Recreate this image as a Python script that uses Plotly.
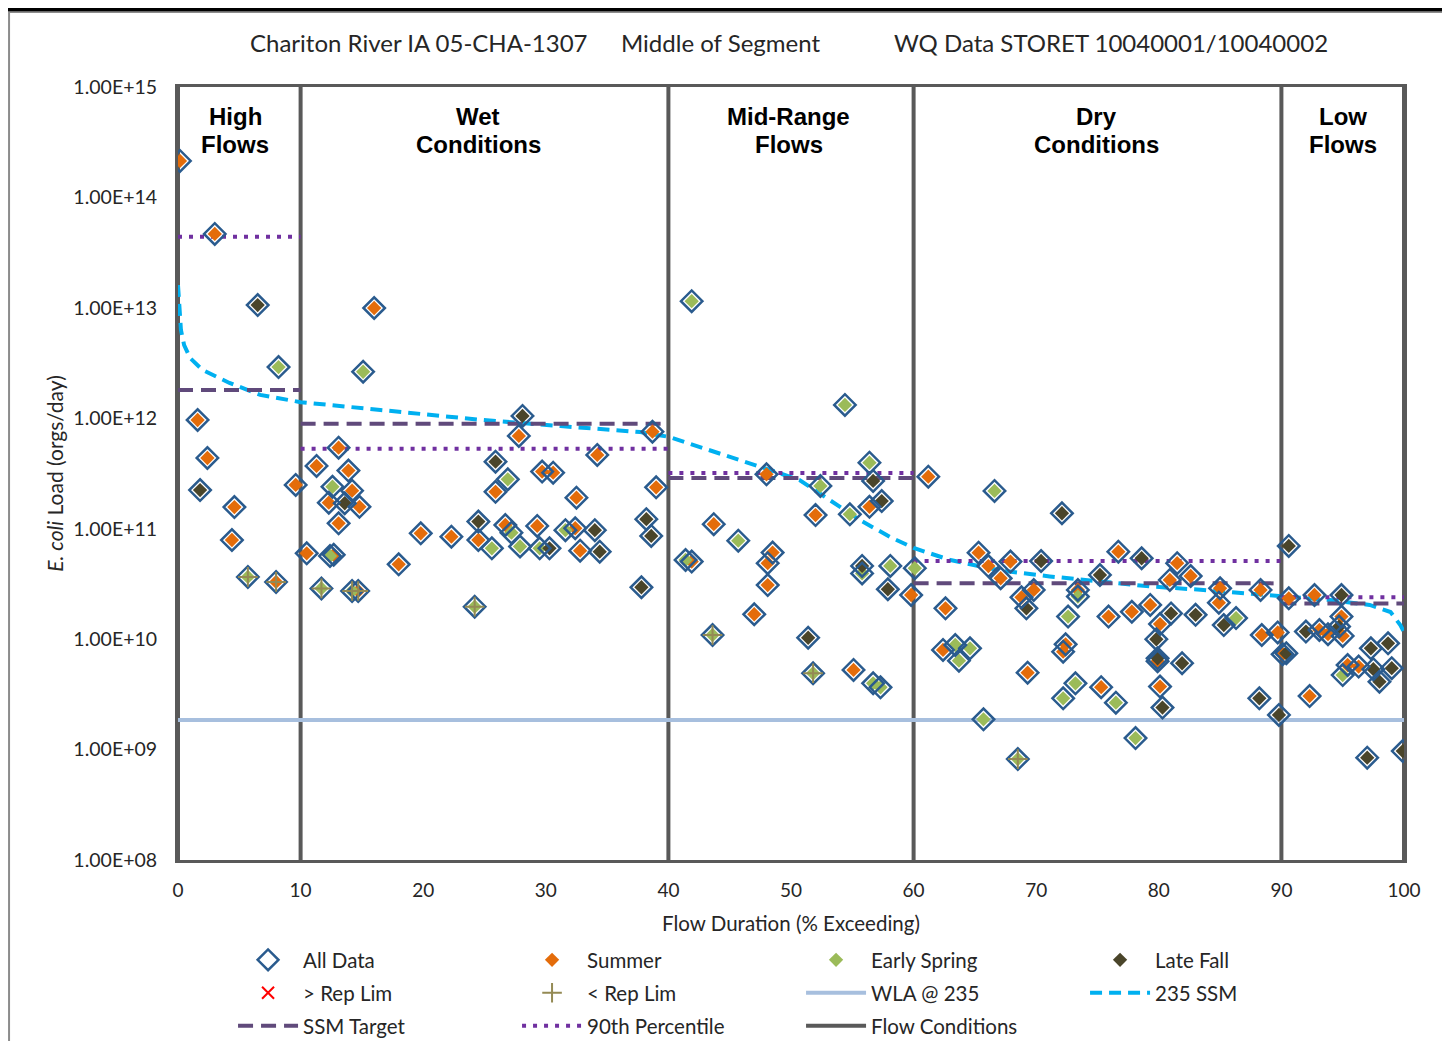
import plotly.graph_objects as go

# ---------------- data ----------------
summer_x = [0.16, 3.0, 1.6, 2.4, 4.6, 4.4, 8.0, 9.6,
            13.1, 11.3, 13.9, 14.2, 12.3, 14.8, 13.1, 10.5, 12.7, 14.7, 19.8, 22.3, 18.0, 24.5, 16.0,
            27.8, 25.9, 29.7, 30.6, 34.2, 32.5, 38.7, 39.0, 26.7, 29.3, 32.4, 32.8,
            48.0, 56.4, 52.0, 43.7, 41.9, 48.5, 48.1, 48.1, 47.0, 59.8, 55.1,
            61.2, 65.3, 66.1, 67.9, 67.1, 69.8, 68.8, 76.7, 73.4, 72.4, 72.2, 62.6, 62.4, 69.3, 75.3,
            75.9, 77.8, 81.5, 80.9, 82.6, 85.0, 84.9, 88.3, 79.3, 80.1, 79.9, 80.1, 88.4, 89.7,
            90.1, 90.6, 92.7, 93.1, 93.8, 94.9, 95.0, 92.3, 95.4, 96.3]
summer_y = [2.14e14, 4.67e13, 9.65e11, 4.37e11, 1.57e11, 7.9e10, 3.3e10, 2.49e11,
            5.42e11, 3.7e11, 3.36e11, 2.21e11, 1.72e11, 1.58e11, 1.12e11, 5.98e10, 5.8e10, 2.73e10, 9.08e10, 8.47e10, 4.76e10, 7.9e10, 9.97e12,
            6.92e11, 2.16e11, 3.29e11, 3.22e11, 4.66e11, 1.91e11, 7.57e11, 2.37e11, 1.08e11, 1.06e11, 1.01e11, 6.32e10,
            3.11e11, 1.58e11, 1.33e11, 1.10e11, 5.04e10, 6.08e10, 4.87e10, 3.09e10, 1.68e10, 2.51e10, 5.26e9,
            2.96e11, 6.07e10, 4.59e10, 5.04e10, 3.56e10, 2.79e10, 2.39e10, 6.2e10, 2.79e10, 8.98e9, 7.7e9, 1.9e10, 7.98e9, 4.97e9, 3.67e9,
            1.6e10, 1.77e10, 4.87e10, 3.44e10, 3.73e10, 2.89e10, 2.14e10, 2.79e10, 2.04e10, 1.37e10, 6.3e9, 3.72e9, 1.09e10, 1.15e10,
            7.3e9, 2.34e10, 2.51e10, 1.21e10, 1.11e10, 1.6e10, 1.07e10, 3.05e9, 5.83e9, 5.64e9]

spring_x = [8.2, 5.7,
            12.6, 12.4, 11.7, 14.2, 24.2, 15.1, 26.9, 25.6, 27.2, 27.9, 29.5, 31.6,
            41.9, 54.4, 56.4, 52.4, 54.8, 45.7, 41.4, 55.8, 58.1, 60.1, 43.6, 51.8, 56.7, 57.3,
            66.6, 73.4, 72.6, 63.4, 64.6, 63.7, 73.2, 72.2, 76.5, 65.7, 68.5, 78.1, 86.3,
            95.0]
spring_y = [2.91e12, 3.66e10,
            2.4e11, 5.66e10, 2.88e10, 2.73e10, 1.97e10, 2.64e12, 2.8e11, 6.64e10, 9.2e10, 6.9e10, 6.64e10, 9.7e10,
            1.15e13, 1.32e12, 3.96e11, 2.44e11, 1.35e11, 7.8e10, 5.21e10, 3.94e10, 4.6e10, 4.39e10, 1.09e10, 4.91e9, 3.98e9, 3.66e9,
            2.2e11, 2.43e10, 1.6e10, 8.85e9, 8.26e9, 6.38e9, 3.98e9, 2.91e9, 2.66e9, 1.88e9, 8.2e8, 1.27e9, 1.55e10,
            4.73e9]

fall_x = [6.5, 1.8,
          13.6, 24.5, 28.1, 25.9, 30.3, 34.0, 34.4, 38.2, 38.6, 37.8,
          56.7, 57.4, 55.8, 57.9, 51.4,
          72.1, 70.4, 69.2, 75.2, 78.6, 85.3, 81.0, 83.0, 79.8, 79.9, 81.9, 80.3, 88.2, 89.8,
          90.4, 90.6, 94.9, 92.0, 94.7, 97.3, 98.7, 97.5, 99.0, 98.0, 97.0, 99.9]
fall_y = [1.06e13, 2.24e11,
          1.70e11, 1.16e11, 1.05e12, 4.05e11, 6.64e10, 9.7e10, 6.2e10, 1.22e11, 8.6e10, 2.95e10,
          2.71e11, 1.78e11, 4.6e10, 2.83e10, 1.03e10,
          1.38e11, 5.1e10, 1.9e10, 3.81e10, 5.4e10, 1.34e10, 1.71e10, 1.66e10, 9.98e9, 6.7e9, 6.05e9, 2.4e9, 2.91e9, 2.06e9,
          7.45e9, 6.98e10, 2.51e10, 1.17e10, 1.30e10, 8.26e9, 9.16e9, 5.35e9, 5.46e9, 4.12e9, 8.45e8, 9.7e8]

below_replim_x = [5.7, 8.0, 11.7, 14.2, 14.7, 24.2, 43.6, 51.8, 68.5]
below_replim_y = [3.66e10, 3.3e10, 2.88e10, 2.73e10, 2.73e10, 1.97e10, 1.09e10, 4.91e9, 8.2e8]

ssm_curve_x = [0, 0.08, 0.24, 0.5, 1.0, 2.0, 4.2, 6.7, 10, 16.5, 24.6, 31.2, 37.7, 40, 42.6, 45.8, 48.3,
               50.7, 53.2, 55.6, 58.1, 60, 63, 67, 71.1, 75.2, 79.3, 83.4, 87.4, 90, 94, 97.2, 98.9, 99.7, 100]
ssm_curve_y = [1.61e13, 1.18e13, 6.3e12, 4.6e12, 3.5e12, 2.74e12, 2.09e12, 1.63e12, 1.40e12, 1.19e12, 9.7e11,
               8.5e11, 7.5e11, 6.8e11, 5.5e11, 4.2e11, 3.4e11, 2.76e11, 1.82e11, 1.2e11, 8.4e10, 6.7e10, 5.2e10,
               4.2e10, 3.7e10, 3.3e10, 3.0e10, 2.8e10, 2.6e10, 2.46e10, 2.26e10, 2.04e10, 1.76e10, 1.34e10, 1.16e10]

flow_breaks = [0, 10, 40, 60, 90, 100]
zone_label_x = [4.65, 24.5, 49.8, 74.9, 95.0]
zone_line1 = ["High", "Wet", "Mid-Range", "Dry", "Low"]
zone_line2 = ["Flows", "Conditions", "Flows", "Conditions", "Flows"]
ssm_target = [1.8e12, 8.9e11, 2.88e11, 3.2e10, 2.1e10]
pct90 = [4.4e13, 5.3e11, 3.2e11, 5.1e10, 2.4e10]
wla_235 = 1.85e9

y_tickvals = [1e8, 1e9, 1e10, 1e11, 1e12, 1e13, 1e14, 1e15]
y_ticktext = ["1.00E+08", "1.00E+09", "1.00E+10", "1.00E+11", "1.00E+12", "1.00E+13", "1.00E+14", "1.00E+15"]
x_tickvals = [0, 10, 20, 30, 40, 50, 60, 70, 80, 90, 100]

title_parts = ["Chariton River IA 05-CHA-1307", "Middle of Segment", "WQ Data STORET 10040001/10040002"]

# ---------------- styling ----------------
FONT = "Lato, Noto Sans, sans-serif"
TXT = "#262626"
C_SUMMER = "#E46C0A"
C_SPRING = "#9BBB59"
C_FALL = "#4A452A"
C_ALL = "#2A5B8E"
C_CROSS = "#948A54"
C_WLA = "#A7BFDE"
C_SSM = "#00B0F0"
C_TARGET = "#604A7B"
C_P90 = "#7030A0"
C_FLOW = "#595959"


def zone_steps(vals):
    xs, ys = [], []
    for i, v in enumerate(vals):
        xs += [flow_breaks[i], flow_breaks[i + 1], None]
        ys += [v, v, None]
    return xs, ys


fig = go.Figure()

# Flow condition lines
fx, fy = [], []
for b in flow_breaks:
    fx += [b, b, None]
    fy += [y_tickvals[0], y_tickvals[-1], None]
fig.add_trace(go.Scatter(x=fx, y=fy, mode="lines", name="Flow Conditions",
                         line=dict(color=C_FLOW, width=4), legend="legend3", legendrank=11,
                         hoverinfo="skip"))

fig.add_trace(go.Scatter(x=[flow_breaks[0], flow_breaks[-1]], y=[wla_235, wla_235], mode="lines",
                         name="WLA @ 235", line=dict(color=C_WLA, width=4),
                         legend="legend2", legendrank=7))

fig.add_trace(go.Scatter(x=ssm_curve_x, y=ssm_curve_y, mode="lines", name="235 SSM",
                         line=dict(color=C_SSM, width=4, dash="12px,7px"),
                         legend="legend2", legendrank=8))

tx, ty = zone_steps(ssm_target)
fig.add_trace(go.Scatter(x=tx, y=ty, mode="lines", name="SSM Target",
                         line=dict(color=C_TARGET, width=4, dash="15px,8px"),
                         legend="legend3", legendrank=9))

px_, py_ = zone_steps(pct90)
fig.add_trace(go.Scatter(x=px_, y=py_, mode="lines", name="90th Percentile",
                         line=dict(color=C_P90, width=4, dash="4px,7px"),
                         legend="legend3", legendrank=10))

fig.add_trace(go.Scatter(x=summer_x, y=summer_y, mode="markers", name="Summer",
                         marker=dict(symbol="diamond", size=11, color=C_SUMMER, line=dict(width=0)),
                         legend="legend", legendrank=2))
fig.add_trace(go.Scatter(x=spring_x, y=spring_y, mode="markers", name="Early Spring",
                         marker=dict(symbol="diamond", size=11, color=C_SPRING, line=dict(width=0)),
                         legend="legend", legendrank=3))
fig.add_trace(go.Scatter(x=fall_x, y=fall_y, mode="markers", name="Late Fall",
                         marker=dict(symbol="diamond", size=11, color=C_FALL, line=dict(width=0)),
                         legend="legend", legendrank=4))

all_x = summer_x + spring_x + fall_x
all_y = summer_y + spring_y + fall_y
fig.add_trace(go.Scatter(x=all_x, y=all_y, mode="markers", name="All Data",
                         marker=dict(symbol="diamond-open", size=16.5, color=C_ALL, line=dict(width=2.5, color=C_ALL)),
                         legend="legend", legendrank=1))

fig.add_trace(go.Scatter(x=[None], y=[None], mode="markers", name="> Rep Lim",
                         marker=dict(symbol="x-thin", size=12, color="red", line=dict(width=2, color="red")),
                         legend="legend2", legendrank=5))
fig.add_trace(go.Scatter(x=below_replim_x, y=below_replim_y, mode="markers", name="< Rep Lim",
                         marker=dict(symbol="cross-thin", size=14, color=C_CROSS, line=dict(width=2, color=C_CROSS)),
                         legend="legend2", legendrank=6))

# zone labels
ZFONT = dict(family="Liberation Sans, Arial, sans-serif", size=24, color="black")
for i in range(len(zone_line1)):
    xc = zone_label_x[i]
    fig.add_annotation(x=xc, y=0.9612, xref="x", yref="paper", text="<b>" + zone_line1[i] + "</b>",
                       showarrow=False, font=ZFONT, xanchor="center", yanchor="middle")
    fig.add_annotation(x=xc, y=0.925, xref="x", yref="paper", text="<b>" + zone_line2[i] + "</b>",
                       showarrow=False, font=ZFONT, xanchor="center", yanchor="middle")

# title
for xp, t in zip([0.1966, 0.4421, 0.761], title_parts):
    fig.add_annotation(x=xp, y=1.058, xref="paper", yref="paper", text=t, showarrow=False,
                       font=dict(family=FONT, size=24, color=TXT), xanchor="center", yanchor="middle")

# outer border decorations
fig.add_shape(type="rect", xref="paper", yref="paper", x0=-0.1378, x1=1.0343, y0=-0.4, y1=1.097,
              line=dict(color="#8C8C8C", width=2), fillcolor="rgba(0,0,0,0)")
fig.add_shape(type="line", xref="paper", yref="paper", x0=-0.2, x1=1.2, y0=1.1003, y1=1.1003,
              line=dict(color="black", width=3.5))

legend_common = dict(orientation="h", entrywidth=209, entrywidthmode="pixels", itemwidth=60,
                     bgcolor="rgba(0,0,0,0)", font=dict(family=FONT, size=20.5, color=TXT),
                     xanchor="left", yanchor="middle", x=0.0449, itemclick=False, itemdoubleclick=False)

fig.update_layout(
    width=1442, height=1041,
    margin=dict(l=170, r=46, t=79, b=189, autoexpand=False),
    paper_bgcolor="white", plot_bgcolor="white",
    showlegend=True,
    legend=dict(legend_common, y=-0.1294),
    legend2=dict(legend_common, y=-0.172),
    legend3=dict(legend_common, y=-0.2147),
    xaxis=dict(range=[0, 100], tickvals=x_tickvals, showgrid=False, zeroline=False, automargin=False,
               showline=True, mirror=True, linecolor=C_FLOW, linewidth=3, ticks="",
               ticklabelstandoff=11,
               tickfont=dict(family=FONT, size=19, color=TXT),
               title=dict(text="Flow Duration (% Exceeding)", font=dict(family=FONT, size=20.5, color=TXT),
                          standoff=17)),
    yaxis=dict(type="log", range=[8, 15], tickvals=y_tickvals, ticktext=y_ticktext, showgrid=False,
               zeroline=False, showline=True, mirror=True, linecolor=C_FLOW, linewidth=3, ticks="",
               automargin=False, ticklabelstandoff=14,
               tickfont=dict(family=FONT, size=19.5, color=TXT),
               title=dict(text="<i>E. coli</i> Load (orgs/day)", font=dict(family=FONT, size=21, color=TXT),
                          standoff=5)),
)

fig.write_html("out.html")
